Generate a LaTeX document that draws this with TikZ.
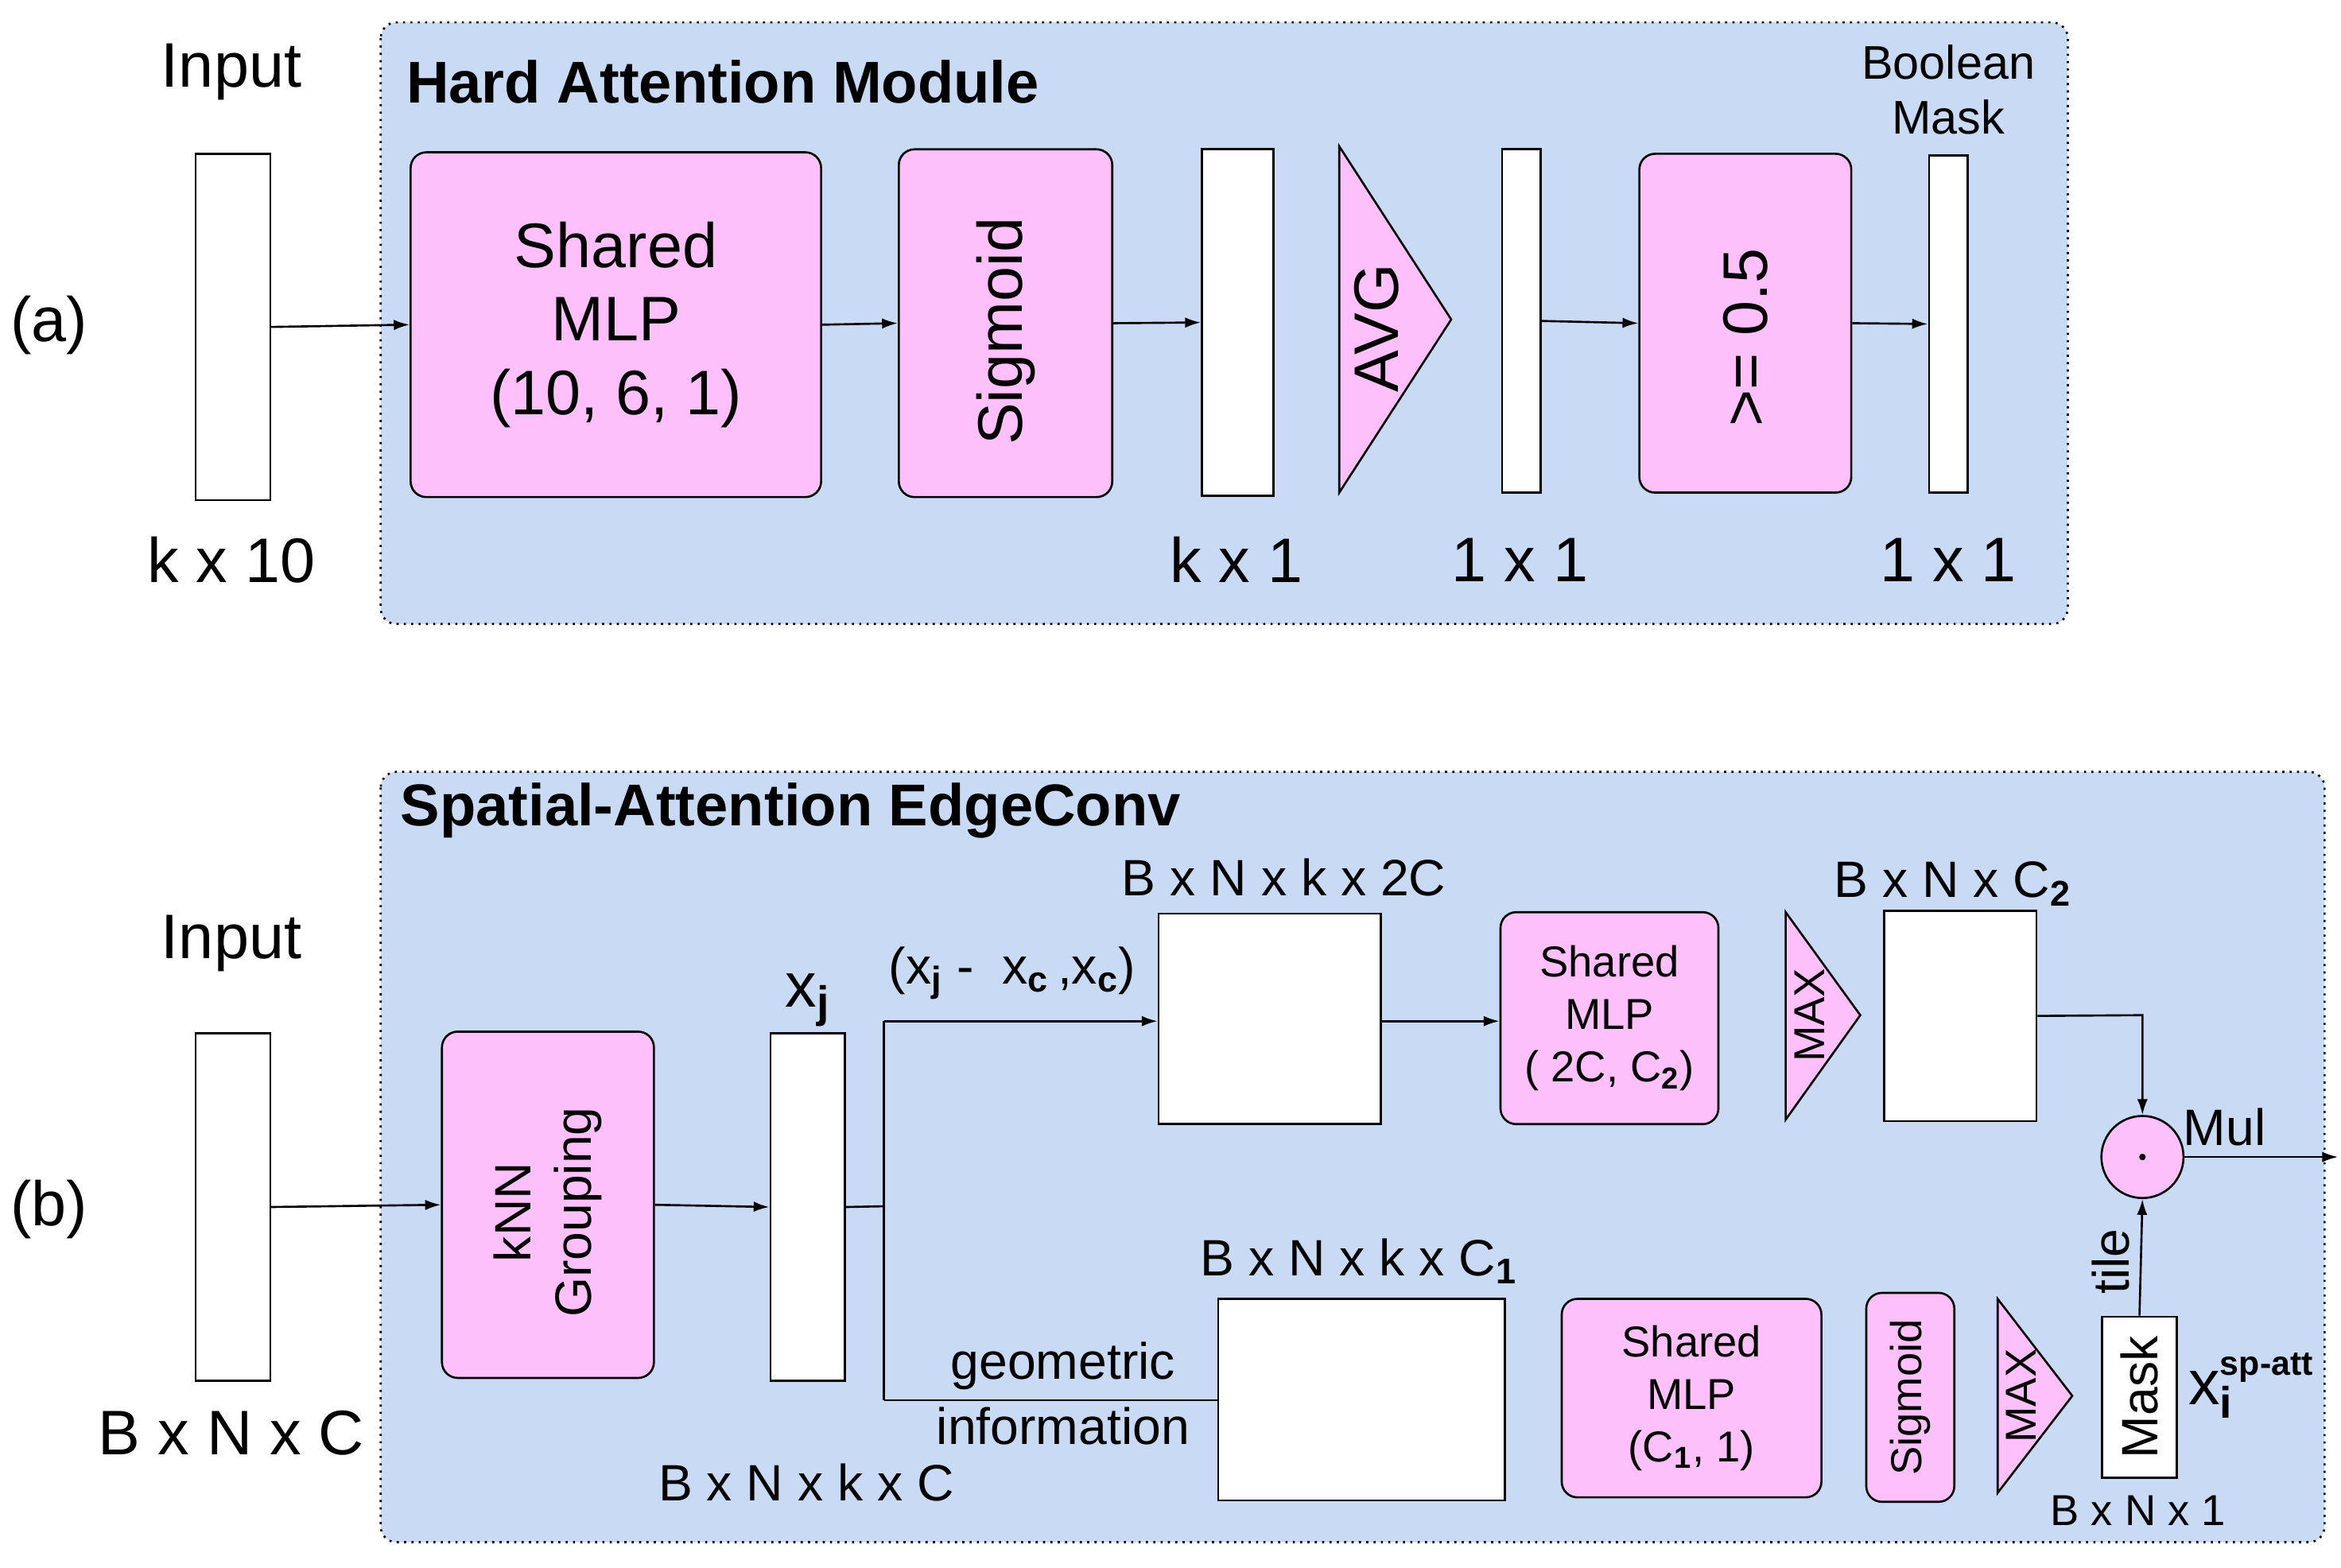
\documentclass[tikz,border=0pt]{standalone}
\usepackage{fontspec}
\setmainfont{Liberation Sans}
\usetikzlibrary{arrows.meta}
\definecolor{panel}{HTML}{C9DAF5}
\definecolor{pinkf}{HTML}{FDC0FB}
\begin{document}
\begin{tikzpicture}[x=0.02cm,y=-0.02cm,
  panel/.style={draw,dotted,thick,fill=panel,rounded corners=6pt},
  pbox/.style={draw,thick,fill=pinkf,rounded corners=6pt},
  wbox/.style={draw,thick,fill=white},
  arr/.style={-{Latex[length=6pt,width=4pt]},thick},
  ln/.style={thick},
  big/.style={font=\fontsize{24}{28}\selectfont},
  mid/.style={font=\fontsize{19.5}{23}\selectfont},
  sml/.style={font=\fontsize{16.5}{20}\selectfont},
  ttl/.style={font=\fontsize{22.5}{26}\selectfont\bfseries,anchor=west}]
\useasboundingbox (0,0) rectangle (1568,1050);
% ---------- panel a
\draw[panel] (255,15) rectangle (1385,418);
\node[ttl] (ta) at (266,55) {Hard Attention Module};
\node[big] (la) at (33,218) {(a)};
\node[big] (ina) at (155,48) {Input};
\node[wbox,minimum width=1cm,minimum height=4.64cm] (ia) at (156,219) {};
\node[big] (k10) at (155,375) {k x 10};
\node[pbox,minimum width=5.5cm,minimum height=4.62cm,align=center,big] (mlpa) at (412.5,217.5) {Shared\\MLP\\(10, 6, 1)};
\node[pbox,minimum width=2.86cm,minimum height=4.66cm] (siga) at (673.5,216.5) {};
\node[big,rotate=90] (sigat) at (673.5,222) {Sigmoid};
\node[wbox,minimum width=0.96cm,minimum height=4.64cm] (r1) at (829,216) {};
\node[big] (k1) at (828,375) {k x 1};
\draw[fill=pinkf,draw=black,thick] (897,98) -- (897,330) -- (972,214) -- cycle;
\node[big,rotate=90] (avg) at (922,220) {AVG};
\node[wbox,minimum width=0.52cm,minimum height=4.6cm] (r2) at (1019,215) {};
\node[big] (o1) at (1018,375) {1 x 1};
\node[pbox,minimum width=2.84cm,minimum height=4.54cm] (thr) at (1169,216.5) {};
\node[big,rotate=90] (thrt) at (1169,226) {>= 0.5};
\node[wbox,minimum width=0.52cm,minimum height=4.52cm] (bm) at (1305,217) {};
\node[font=\fontsize{18}{21}\selectfont,align=center] (bml) at (1305,60) {Boolean\\Mask};
\node[big] (o2) at (1305,375) {1 x 1};
\draw[arr] (ia.east) -- (mlpa.west);
\draw[arr] (mlpa.east) -- (siga.west);
\draw[arr] (siga.east) -- (r1.west);
\draw[arr] (r2.east) -- (thr.west);
\draw[arr] (thr.east) -- (bm.west);
% ---------- panel b
\draw[panel] (255,517) rectangle (1557,1033);
\node[ttl] (tb) at (262,543) {Spatial-Attention EdgeConv};
\node[big] (lb) at (33,810) {(b)};
\node[big] (inb) at (155,632) {Input};
\node[wbox,minimum width=1cm,minimum height=4.66cm] (ib) at (156,808.5) {};
\node[big] (bnc) at (155,960) {B x N x C};
\node[pbox,minimum width=2.84cm,minimum height=4.64cm] (knn) at (367,807) {};
\node[mid,rotate=90,align=center] (knnt) at (367,812) {kNN\\Grouping};
\node[wbox,minimum width=1cm,minimum height=4.66cm] (xj) at (541,808.5) {};
\node[big] (xjl) at (541,670) {x$_{\mathbf{j}}$};
\node[mid] (bnkc) at (540,993) {B x N x k x C};
\draw[arr] (ib.east) -- (knn.west);
\draw[arr] (knn.east) -- (xj.west);
\coordinate (sp) at (592,808);
\coordinate (spT) at (592,684);
\coordinate (spB) at (592,938);
\draw[ln] (xj.east) -- (sp);
\draw[ln] (spT) -- (spB);
\node[wbox,minimum width=2.98cm,minimum height=2.82cm] (t1) at (850.5,682.5) {};
\draw[arr] (spT) -- (t1.west |- spT);
\node[mid] (xd) at (678,652) {(x$_{\mathbf{j}}$ -\ \ x$_{\mathbf{c}}$\,,x$_{\mathbf{c}}$)};
\node[mid] (l2c) at (860,588) {B x N x k x 2C};
\node[pbox,minimum width=2.92cm,minimum height=2.84cm,align=center,sml] (mlpb) at (1078,682) {Shared\\MLP\\( 2C, C$_{\mathbf{2}}$)};
\draw[arr] (t1.east |- spT) -- (mlpb.west |- spT);
\draw[fill=pinkf,thick] (1196,611) -- (1196,750) -- (1246,680) -- cycle;
\node[sml,rotate=90] (max1) at (1212,680) {MAX};
\node[wbox,minimum width=2.04cm,minimum height=2.82cm] (t2) at (1313,680.5) {};
\node[mid] (lc2) at (1308,592) {B x N x C$_{\mathbf{2}}$};
\node[draw,thick,circle,fill=pinkf,minimum size=1.1cm,inner sep=0pt] (mul) at (1435,775) {};
\fill (mul) circle (2.2);
\node[mid] (mull) at (1490,755) {Mul};
\coordinate (out) at (1566,775);
\draw[arr] (mul.east) -- (out);
\draw[arr] (t2.east) -- (1435,680) -- (mul.north);
% bottom branch
\node[wbox,minimum width=3.84cm,minimum height=2.7cm] (b1) at (912,937.5) {};
\draw[ln] (spB) -- (b1.west |- spB);
\node[mid] (geo) at (712,915) {geometric};
\node[mid] (inf) at (712,955) {information};
\node[mid] (lc1) at (910,845) {B x N x k x C$_{\mathbf{1}}$};
\node[pbox,minimum width=3.48cm,minimum height=2.66cm,align=center,sml] (mlpc) at (1133,936.5) {Shared\\MLP\\(C$_{\mathbf{1}}$, 1)};
\node[pbox,minimum width=1.18cm,minimum height=2.8cm] (sigb) at (1279.5,936) {};
\node[sml,rotate=90] (sigbt) at (1279.5,936) {Sigmoid};
\draw[fill=pinkf,thick] (1338,870) -- (1338,1000) -- (1388,935) -- cycle;
\node[sml,rotate=90] (max2) at (1354,935) {MAX};
\node[wbox,minimum width=1cm,minimum height=2.16cm] (mask) at (1433,936) {};
\node[mid,rotate=90] (maskt) at (1433,936) {Mask};
\draw[arr] (mask.north) -- (mul.south);
\node[mid,rotate=90] (tile) at (1414,845) {tile};
\node[big] (xi) at (1508,928) {x$_{\mathbf{i}}^{\textbf{\fontsize{13}{14}\selectfont sp-att}}$};
\node[sml] (bn1) at (1432,1012) {B x N x 1};
\end{tikzpicture}
\end{document}
